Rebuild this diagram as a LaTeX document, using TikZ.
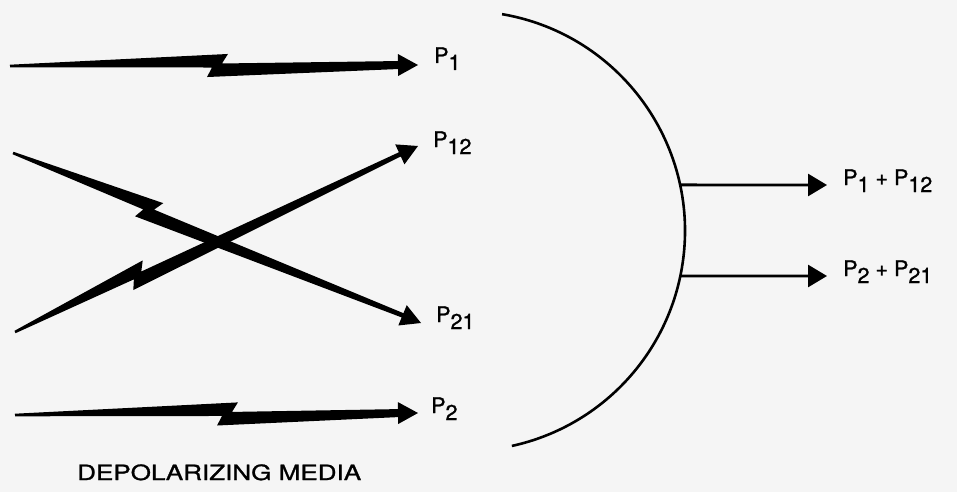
\documentclass[tikz,border=0pt]{standalone}
\usepackage{fontspec}
\setmainfont{TeX Gyre Heros}[FakeBold=1.2]
\newfontfamily\widefont{TeX Gyre Heros}[FakeStretch=1.24,FakeBold=1.2]
\usetikzlibrary{arrows.meta,calc,positioning}

% P with lowered index
\newcommand{\pp}[1]{P\raisebox{-7pt}{#1}}
% lightning arrow: tail, tip, jag distance, half width at head
\newcommand{\bolt}[4]{%
  \fill ($(#1)!1.3pt!90:(#2)$)
    -- ($(#1)!{#3pt+11pt}!(#2)!11.5pt!90:(#2)$)
    -- ($(#1)!{#3pt+5pt}!(#2)!2pt!90:(#2)$)
    -- ($(#2)!20pt!(#1)!#4pt!-90:(#1)$)
    -- ($(#2)!20pt!(#1)!11pt!-90:(#1)$)
    -- (#2)
    -- ($(#2)!20pt!(#1)!11pt!90:(#1)$)
    -- ($(#2)!20pt!(#1)!#4pt!90:(#1)$)
    -- ($(#1)!{#3pt-10pt}!(#2)!11.5pt!-90:(#2)$)
    -- ($(#1)!{#3pt-5pt}!(#2)!2pt!-90:(#2)$)
    -- ($(#1)!1.3pt!-90:(#2)$) -- cycle;}

\begin{document}
\begin{tikzpicture}[
	x=1pt,y=1pt,
	lab/.style={inner sep=0pt,anchor=base west,font=\fontsize{21.5}{25}\selectfont},
	lens/.style={line width=2.6pt},
	outarrow/.style={line width=2.8pt,-{Triangle[length=19pt,width=22pt]}}
	]
	\useasboundingbox (0,0) rectangle (957,-492);
	\fill[black!4] (0,0) rectangle (957,-492);
	
	% tails and tips
	\coordinate (t1) at (10,-66);
	\coordinate (h1) at (418,-65);
	\coordinate (t2) at (13,-153);
	\coordinate (h21) at (421,-323);
	\coordinate (t3) at (15,-332);
	\coordinate (h12) at (418,-146);
	\coordinate (t4) at (15,-415);
	\coordinate (h2) at (418,-413);
	
	\node[lab] (p1) at ([xshift=16pt,yshift=2pt]h1) {\pp{1}};
	\node[lab] (p12) at ([xshift=15pt,yshift=-1pt]h12) {\pp{12}};
	\node[lab] (p21) at ([xshift=15pt,yshift=1pt]h21) {\pp{21}};
	\node[lab] (p2) at ([xshift=13pt]h2) {\pp{2}};
	
	\bolt{t1}{h1}{207}{4}
	\bolt{t2}{h21}{147}{2.3}
	\bolt{t3}{h12}{135}{2.3}
	\bolt{t4}{h2}{212}{4}
	
	% lens
	\coordinate (lc) at (465,-231);
	\draw[lens] ($(lc)+(80.3:220)$) arc[start angle=80.3,end angle=-77.7,radius=220];
	\coordinate (o1) at ($(lc)+(12.1:220)$);
	\coordinate (o2) at ($(lc)+(-11.8:220)$);
	\coordinate (q1) at (827,-185);
	\coordinate (q2) at (827,-276);
	\draw[outarrow] (o1) -- (q1);
	\draw[outarrow] (o2) -- (q2);
	\node[lab] (sum1) at ([xshift=16pt]q1) {\pp{1}\hspace{6pt}+\hspace{6pt}\pp{12}};
	\node[lab] (sum2) at ([xshift=16pt]q2) {\pp{2}\hspace{6pt}+\hspace{6pt}\pp{21}};
	
	\node[lab,font=\widefont\fontsize{21}{25}\selectfont] (media) at (77,-480) {DEPOLARIZING MEDIA};
	
\end{tikzpicture}
\end{document}
